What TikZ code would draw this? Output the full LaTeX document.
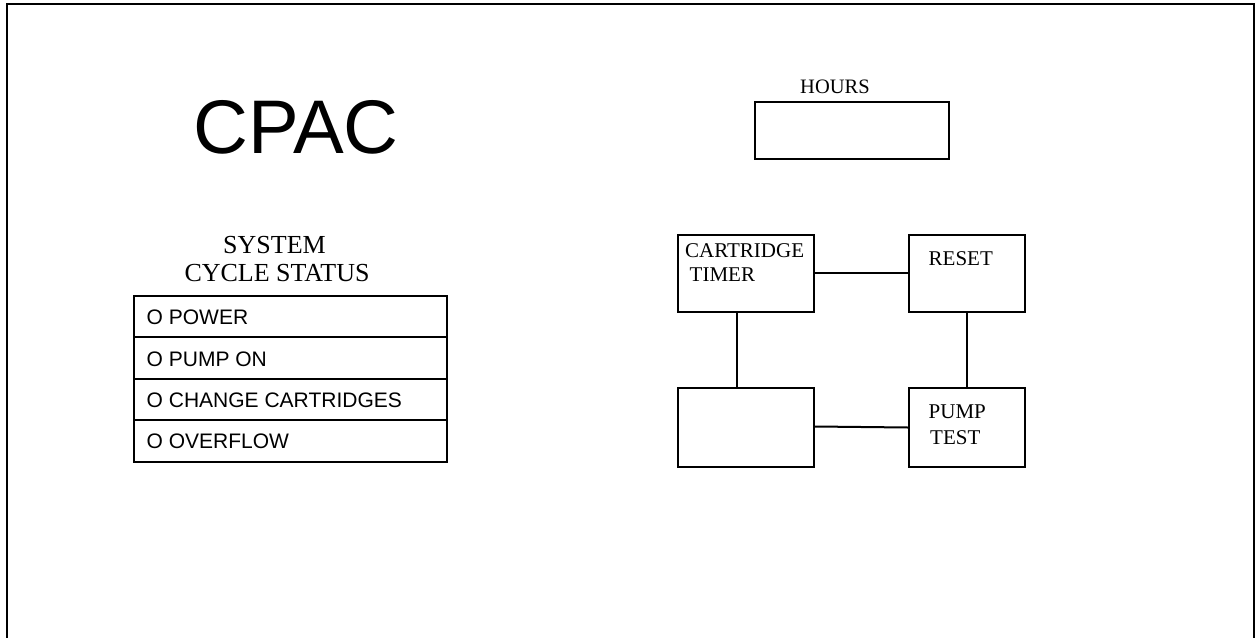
\documentclass[tikz,border=0pt]{standalone}
\usepackage{fontspec}
\setmainfont{Liberation Serif}
\newfontfamily\arialf{Liberation Sans}
\begin{document}
\begin{tikzpicture}[x=1pt,y=-1pt,
  box/.style={draw=black,line width=2pt},
  lbl/.style={inner sep=0pt,anchor=base west,font=\fontsize{21}{24}\selectfont},
  link/.style={draw=black,line width=2pt}]
\useasboundingbox (0,0) rectangle (1255,637);
% outer frame (open at bottom)
\draw[line width=2.2pt] (7,640) -- (7,4) -- (1254,4) -- (1254,640);
% title
\node[inner sep=0pt,anchor=base west,font=\arialf\fontsize{76}{80}\selectfont] (cpac) at (193,153) {CPAC};
% hours
\node[lbl,font=\fontsize{20.5}{24}\selectfont] (hourslbl) at (800,93) {HOURS};
\node[box,minimum width=194pt,minimum height=57pt,inner sep=0pt] (hours) at (852,130.5) {};
% system cycle status
\node[inner sep=0pt,anchor=base,font=\fontsize{26}{28}\selectfont] (sys1) at (274.5,253) {SYSTEM};
\node[inner sep=0pt,anchor=base,font=\fontsize{26}{28}\selectfont] (sys2) at (277,281) {CYCLE STATUS};
\node[box,minimum width=312.4pt,minimum height=41.4pt,inner sep=0pt] (r1) at (290.5,316.7) {};
\node[box,minimum width=312.4pt,minimum height=42pt,inner sep=0pt] (r2) at (290.5,358.3) {};
\node[box,minimum width=312.4pt,minimum height=40.7pt,inner sep=0pt] (r3) at (290.5,399.6) {};
\node[box,minimum width=312.4pt,minimum height=41.7pt,inner sep=0pt] (r4) at (290.5,440.8) {};
\node[lbl,font=\arialf\fontsize{21}{24}\selectfont] (t1) at (146.5,324) {O POWER};
\node[lbl,font=\arialf\fontsize{21}{24}\selectfont] (t2) at (146.5,366) {O PUMP ON};
\node[lbl,font=\arialf\fontsize{21}{24}\selectfont] (t3) at (146.5,407) {O CHANGE CARTRIDGES};
\node[lbl,font=\arialf\fontsize{21}{24}\selectfont] (t4) at (146.5,448) {O OVERFLOW};
% control boxes
\node[box,minimum width=135.7pt,minimum height=77.3pt,inner sep=0pt] (ct) at (746.2,273.7) {};
\node[box,minimum width=116pt,minimum height=77.3pt,inner sep=0pt] (rs) at (967,273.7) {};
\node[box,minimum width=135.7pt,minimum height=78.4pt,inner sep=0pt] (bl) at (746.2,427.5) {};
\node[box,minimum width=116pt,minimum height=78.4pt,inner sep=0pt] (pt) at (967,427.5) {};
\node[lbl] (ctl1) at (685,257) {CARTRIDGE};
\node[lbl] (ctl2) at (689.5,281) {TIMER};
\node[lbl] (rsl) at (928.5,265.5) {RESET};
\node[lbl] (ptl1) at (928.5,418) {PUMP};
\node[lbl] (ptl2) at (930,444.3) {TEST};
% connectors
\draw[link] (ct.east |- 0,273.3) -- (rs.west |- 0,273.3);
\draw[link] (ct.south -| 736.7,0) -- (bl.north -| 736.7,0);
\draw[link] (rs.south -| 966.7,0) -- (pt.north -| 966.7,0);
\draw[link] (bl.east |- 0,426.5) -- (pt.west |- 0,427.5);
\end{tikzpicture}
\end{document}
